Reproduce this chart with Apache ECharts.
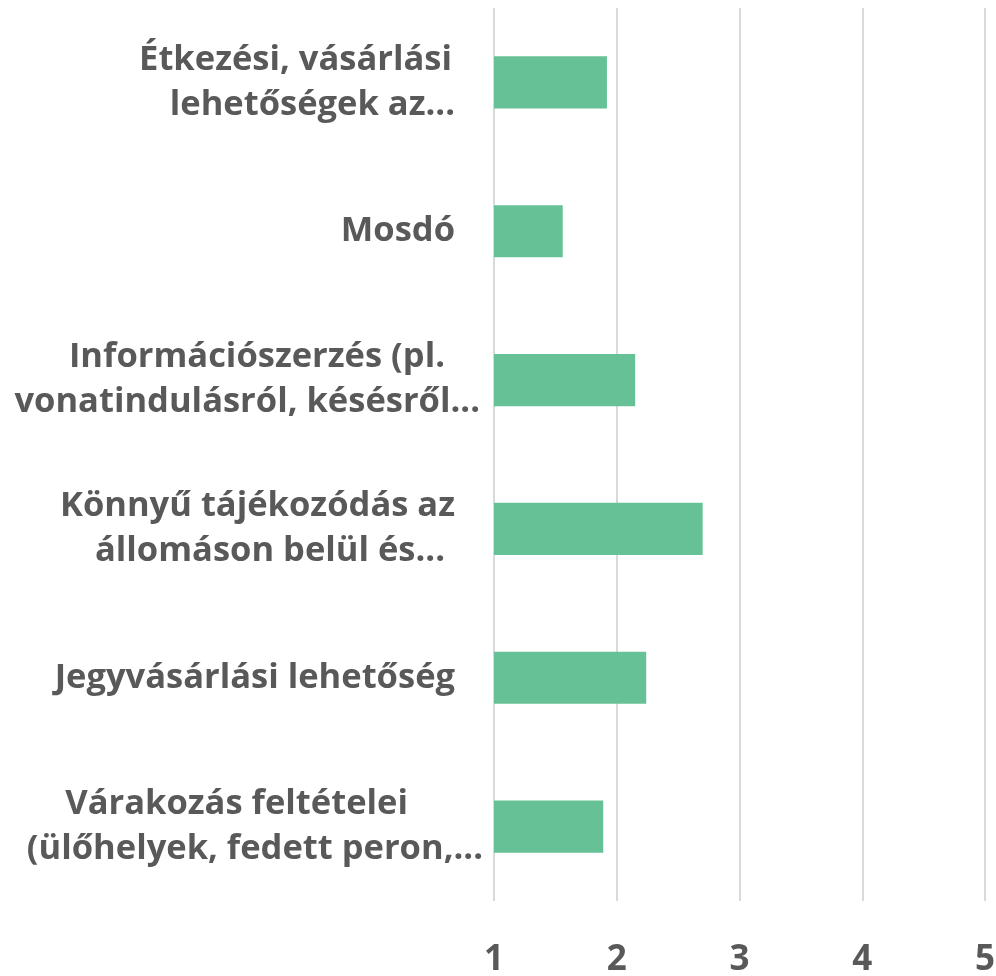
<!DOCTYPE html>
<html lang="hu">
  <head>
    <meta charset="UTF-8" />
    <title>bar chart</title>
    <script src="https://cdn.jsdelivr.net/npm/echarts@6/dist/echarts.min.js"></script>
    <style>
      html, body { margin: 0; padding: 0; background: #fff; }
      #chart { width: 996px; height: 976px; }
    </style>
  </head>
  <body>
    <div id="chart"></div>
    <script>
      // kategóriák (felülről lefelé), soronként
      var categories = [
        ['Étkezési, vásárlási', 'lehetőségek az...'],
        ['Mosdó'],
        ['Információszerzés (pl.', 'vonatindulásról, késésről...'],
        ['Könnyű tájékozódás az', 'állomáson belül és...'],
        ['Jegyvásárlási lehetőség'],
        ['Várakozás feltételei', '(ülőhelyek, fedett peron,...']
      ];
      var values = [1.92, 1.56, 2.15, 2.70, 2.24, 1.89];
      var xTicks = [1, 2, 3, 4, 5];

      // sorok jobb oldali behúzása (px), hogy a tördelés hasonlítson az eredetire
      var lineIndent = [[31, 28], [28], [38, 3], [28, 38], [28], [75, 0]];

      var chart = echarts.init(document.getElementById('chart'));
      var labelFont = '"Open Sans", "Noto Sans", sans-serif';

      var rich = {};
      categories.forEach(function (lines, i) {
        lines.forEach(function (line, j) {
          rich['l' + i + '_' + j] = {
            fontFamily: labelFont,
            fontWeight: 'bold',
            fontSize: 34.5,
            color: '#595959',
            lineHeight: 45,
            padding: [0, lineIndent[i][j], 0, 0]
          };
        });
      });

      chart.setOption({
        animation: false,
        grid: { left: 494, right: 11, top: 8, bottom: 75, outerBoundsMode: 'none' },
        xAxis: {
          type: 'value',
          min: xTicks[0],
          max: xTicks[xTicks.length - 1],
          interval: 1,
          axisLine: { show: false },
          axisTick: { show: false },
          splitLine: { show: true, lineStyle: { color: '#d9d9d9', width: 2 } },
          axisLabel: {
            margin: 42,
            fontFamily: labelFont,
            fontWeight: 'bold',
            fontSize: 35,
            color: '#595959'
          }
        },
        yAxis: {
          type: 'category',
          inverse: true,
          data: categories.map(function (c, i) { return String(i); }),
          axisLine: { show: false },
          axisTick: { show: false },
          axisLabel: {
            margin: 11,
            align: 'right',
            rich: rich,
            formatter: function (v) {
              var i = +v;
              return categories[i].map(function (line, j) {
                return '{l' + i + '_' + j + '|' + line + '}';
              }).join('\n');
            }
          }
        },
        series: [
          {
            type: 'bar',
            barWidth: '35%',
            itemStyle: { color: '#66c296' },
            data: values
          }
        ]
      });
    </script>
  </body>
</html>
